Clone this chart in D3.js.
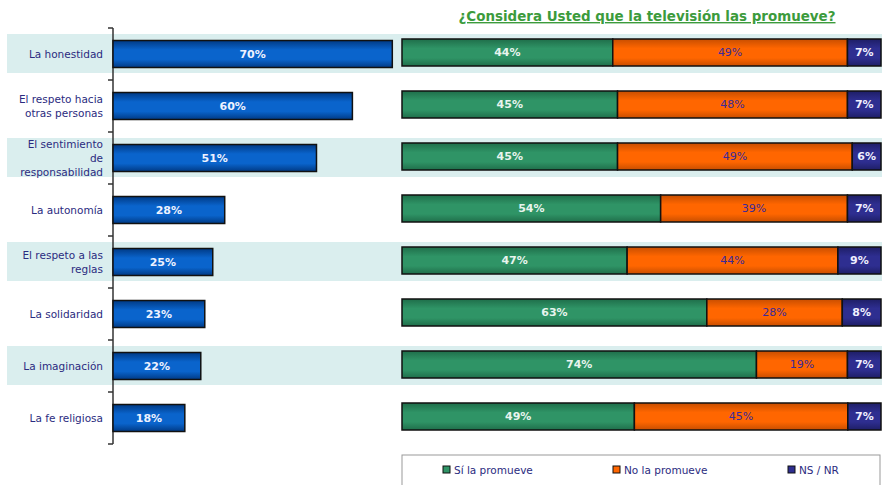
<!DOCTYPE html>
<html>
<head>
<meta charset="utf-8">
<script src="https://cdn.jsdelivr.net/npm/d3@7"></script>
<style>
  body { margin: 0; background: #fff; }
  svg text { font-family: Tahoma, "DejaVu Sans", sans-serif; }
</style>
</head>
<body>
<svg id="chart" width="882" height="485"></svg>
<script>
const categories = [
  "La honestidad",
  "El respeto hacia_otras personas",
  "El sentimiento_de_responsabilidad",
  "La autonomía",
  "El respeto a las_reglas",
  "La solidaridad",
  "La imaginación",
  "La fe religiosa",
];
const valuesImportant = [70, 60, 51, 28, 25, 23, 22, 18];
const valuesSi = [44, 45, 45, 54, 47, 63, 74, 49];
const valuesNo = [49, 48, 49, 39, 44, 28, 19, 45];
const valuesNs = [7, 7, 6, 7, 9, 8, 7, 7];
const seriesNames = ["Sí la promueve", "No la promueve", "NS / NR"];
const title = "¿Considera Usted que la televisión las promueve?";

const svg = d3.select("#chart");
const WIDTH = 882;
const NAVY_TEXT = "#2b2b80";
const BAR_H = 27;

const y = d3.scaleBand().domain(d3.range(categories.length)).range([28, 444]).padding(0);
const xLeft = d3.scaleLinear().domain([0, 100]).range([113, 512]);
const xRight = d3.scaleLinear().domain([0, 1]).range([402, 881]);

// gradients for the bevelled bar look
const defs = svg.append("defs");
const makeGrad = (id, dark, mid) => {
  const g = defs.append("linearGradient").attr("id", id)
    .attr("x1", 0).attr("y1", 0).attr("x2", 0).attr("y2", 1);
  g.append("stop").attr("offset", "0%").attr("stop-color", dark);
  g.append("stop").attr("offset", "35%").attr("stop-color", mid);
  g.append("stop").attr("offset", "70%").attr("stop-color", mid);
  g.append("stop").attr("offset", "100%").attr("stop-color", dark);
};
makeGrad("gBlue", "#003a85", "#0a64cc");
makeGrad("gGreen", "#1f6e4a", "#2f9466");
makeGrad("gOrange", "#c84e00", "#ff6600");
makeGrad("gNavy", "#1e1e66", "#2e2e90");

// alternating background bands
svg.append("g").selectAll("rect")
  .data(categories.map((c, i) => i).filter((i) => i % 2 === 0))
  .join("rect")
  .attr("x", 7)
  .attr("y", (i) => y(i) + y.bandwidth() / 2 - 20)
  .attr("width", WIDTH - 7)
  .attr("height", 39)
  .attr("fill", "#daeeee");

// left axis
const axis = svg.append("g");
axis.append("line")
  .attr("x1", 113).attr("x2", 113).attr("y1", 28).attr("y2", 444)
  .attr("stroke", "#333").attr("stroke-width", 1.5);
axis.selectAll("line.tick")
  .data(d3.range(categories.length + 1))
  .join("line")
  .attr("class", "tick")
  .attr("x1", 108).attr("x2", 113)
  .attr("y1", (i) => 28 + i * y.step())
  .attr("y2", (i) => 28 + i * y.step())
  .attr("stroke", "#333").attr("stroke-width", 1.5);

// category labels
const LINE_HEIGHT = 14;
categories.forEach((cat, i) => {
  const lines = cat.split("_");
  const cy = y(i) + y.bandwidth() / 2;
  lines.forEach((line, j) => {
    svg.append("text")
      .attr("x", 103)
      .attr("y", cy + (j - (lines.length - 1) / 2) * LINE_HEIGHT)
      .attr("dy", "0.35em")
      .attr("text-anchor", "end")
      .attr("font-size", 10.5)
      .attr("fill", NAVY_TEXT)
      .text(line);
  });
});

// left bars
const left = svg.append("g");
left.selectAll("rect")
  .data(valuesImportant)
  .join("rect")
  .attr("x", xLeft(0))
  .attr("y", (d, i) => y(i) + (y.bandwidth() - BAR_H) / 2)
  .attr("width", (d) => xLeft(d) - xLeft(0))
  .attr("height", BAR_H)
  .attr("fill", "url(#gBlue)")
  .attr("stroke", "#111")
  .attr("stroke-width", 1.5);
left.selectAll("text")
  .data(valuesImportant)
  .join("text")
  .attr("x", (d) => (xLeft(0) + xLeft(d)) / 2)
  .attr("y", (d, i) => y(i) + y.bandwidth() / 2)
  .attr("dy", "0.35em")
  .attr("text-anchor", "middle")
  .attr("font-size", 11)
  .attr("font-weight", "bold")
  .attr("fill", "#eef2ff")
  .text((d) => `${d}%`);

// right stacked bars (normalised per row)
const rows = categories.map((c, i) => ({ i, si: valuesSi[i], no: valuesNo[i], ns: valuesNs[i] }));
const keys = ["si", "no", "ns"];
const fills = { si: "url(#gGreen)", no: "url(#gOrange)", ns: "url(#gNavy)" };
const labelColor = { si: "#e8f4ee", no: "#3a2a9a", ns: "#f0f0ff" };
const stacked = d3.stack().keys(keys).offset(d3.stackOffsetExpand)(rows);

const right = svg.append("g");
stacked.forEach((layer) => {
  const key = layer.key;
  const g = right.append("g");
  g.selectAll("rect")
    .data(layer)
    .join("rect")
    .attr("x", (d) => xRight(d[0]))
    .attr("y", (d) => y(d.data.i) + (y.bandwidth() - BAR_H) / 2 - 1.5)
    .attr("width", (d) => xRight(d[1]) - xRight(d[0]))
    .attr("height", BAR_H)
    .attr("fill", fills[key])
    .attr("stroke", "#111")
    .attr("stroke-width", 1.5);
  g.selectAll("text")
    .data(layer)
    .join("text")
    .attr("x", (d) => (xRight(d[0]) + xRight(d[1])) / 2)
    .attr("y", (d) => y(d.data.i) + y.bandwidth() / 2 - 1.5)
    .attr("dy", "0.35em")
    .attr("text-anchor", "middle")
    .attr("font-size", 11)
    .attr("font-weight", key === "no" ? "normal" : "bold")
    .attr("fill", labelColor[key])
    .text((d) => `${d.data[key]}%`);
});

// title
svg.append("text")
  .attr("x", 647)
  .attr("y", 21)
  .attr("text-anchor", "middle")
  .attr("font-size", 14)
  .attr("font-weight", "bold")
  .attr("fill", "#3c9b3c")
  .attr("text-decoration", "underline")
  .attr("textLength", 377)
  .attr("lengthAdjust", "spacingAndGlyphs")
  .text(title);

// legend
const legend = svg.append("g");
legend.append("rect")
  .attr("x", 402).attr("y", 455).attr("width", 478).attr("height", 40)
  .attr("fill", "#fff").attr("stroke", "#999").attr("stroke-width", 1);
const legendX = [443, 613, 788];
const legendFill = ["#2f9466", "#ff6600", "#2e2e90"];
seriesNames.forEach((name, i) => {
  legend.append("rect")
    .attr("x", legendX[i]).attr("y", 466).attr("width", 7).attr("height", 7)
    .attr("fill", legendFill[i]).attr("stroke", "#111").attr("stroke-width", 1);
  legend.append("text")
    .attr("x", legendX[i] + 11).attr("y", 470)
    .attr("dy", "0.35em")
    .attr("font-size", 10.5)
    .attr("fill", NAVY_TEXT)
    .text(name);
});
</script>
</body>
</html>
